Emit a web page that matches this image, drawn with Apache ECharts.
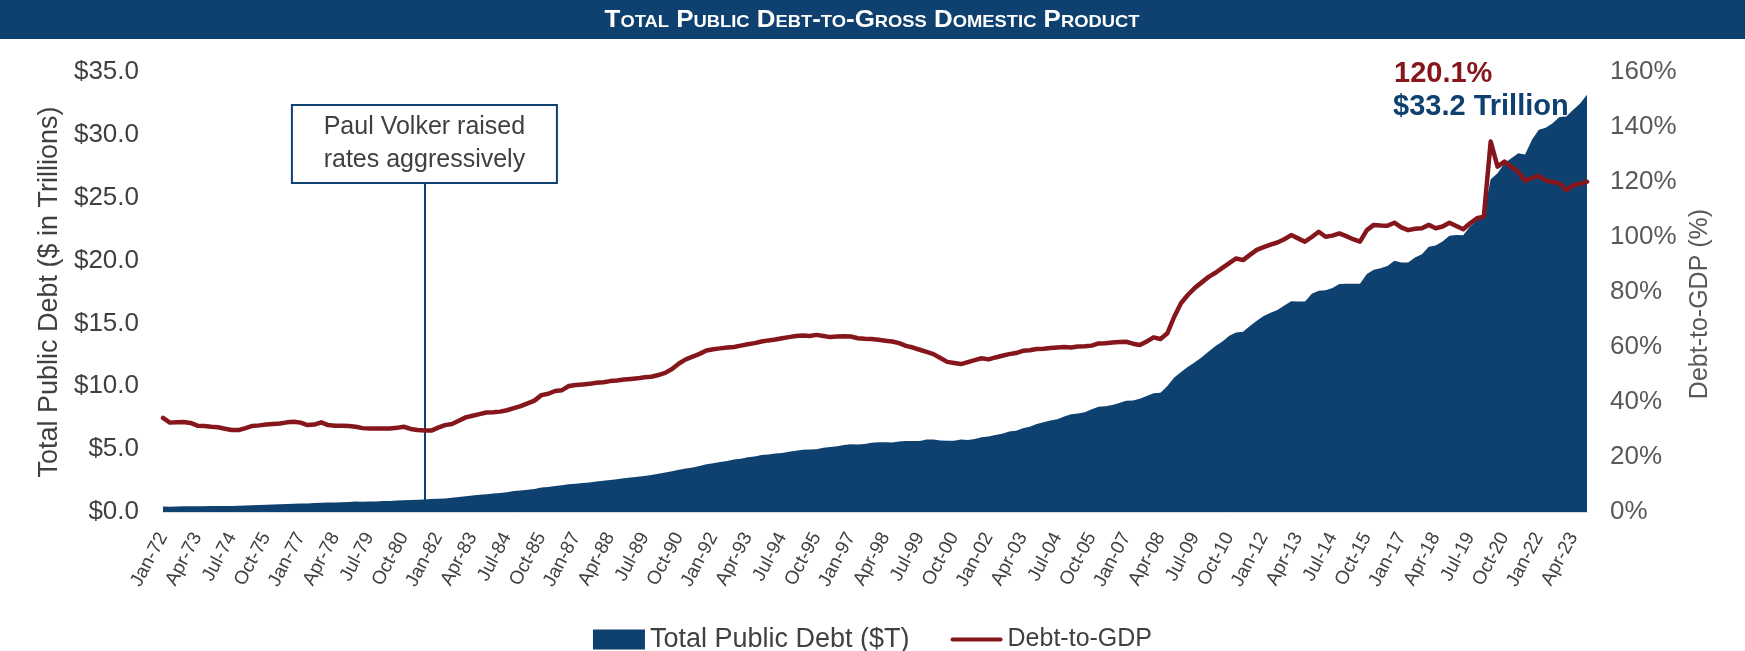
<!DOCTYPE html>
<html>
<head>
<meta charset="utf-8">
<script src="https://cdn.jsdelivr.net/npm/echarts@6/dist/echarts.min.js"></script>
<style>
html,body{margin:0;padding:0;background:#fff;}
#c{width:1745px;height:651px;}
</style>
</head>
<body>
<div id="c"></div>
<script>
// ---- DATA ----
const firstYear = 1972, lastYear = 2023;
const quarterMonths = ['Jan', 'Apr', 'Jul', 'Oct'];

// Total public debt, $ trillions, quarterly Jan-72 .. Oct-23
const totalDebt = [
  0.428, 0.427, 0.437, 0.450,  // 1972
  0.459, 0.458, 0.466, 0.469,  // 1973
  0.475, 0.475, 0.482, 0.492,  // 1974
  0.509, 0.533, 0.554, 0.577,  // 1975
  0.599, 0.620, 0.635, 0.653,  // 1976
  0.680, 0.685, 0.709, 0.729,  // 1977
  0.759, 0.758, 0.780, 0.797,  // 1978
  0.826, 0.812, 0.827, 0.845,  // 1979
  0.873, 0.884, 0.908, 0.930,  // 1980
  0.964, 0.971, 0.998, 1.028,  // 1981
  1.061, 1.080, 1.143, 1.197,  // 1982
  1.250, 1.320, 1.377, 1.410,  // 1983
  1.463, 1.518, 1.573, 1.663,  // 1984
  1.710, 1.775, 1.823, 1.946,  // 1985
  1.986, 2.060, 2.125, 2.214,  // 1986
  2.247, 2.310, 2.350, 2.432,  // 1987
  2.487, 2.548, 2.602, 2.684,  // 1988
  2.740, 2.800, 2.857, 2.953,  // 1989
  3.052, 3.143, 3.233, 3.365,  // 1990
  3.465, 3.538, 3.665, 3.801,  // 1991
  3.881, 3.984, 4.065, 4.177,  // 1992
  4.231, 4.352, 4.411, 4.536,  // 1993
  4.576, 4.645, 4.692, 4.801,  // 1994
  4.864, 4.951, 4.974, 4.989,  // 1995
  5.118, 5.161, 5.225, 5.324,  // 1996
  5.380, 5.377, 5.413, 5.503,  // 1997
  5.542, 5.548, 5.526, 5.614,  // 1998
  5.652, 5.639, 5.656, 5.776,  // 1999
  5.773, 5.686, 5.674, 5.662,  // 2000
  5.773, 5.727, 5.807, 5.943,  // 2001
  6.006, 6.126, 6.228, 6.405,  // 2002
  6.460, 6.670, 6.783, 7.001,  // 2003
  7.131, 7.274, 7.379, 7.596,  // 2004
  7.777, 7.836, 7.933, 8.170,  // 2005
  8.371, 8.420, 8.507, 8.680,  // 2006
  8.849, 8.867, 9.008, 9.229,  // 2007
  9.437, 9.492, 10.025, 10.700, // 2008
  11.127, 11.545, 11.910, 12.311, // 2009
  12.773, 13.202, 13.562, 14.025, // 2010
  14.270, 14.343, 14.790, 15.223, // 2011
  15.582, 15.856, 16.066, 16.433, // 2012
  16.771, 16.738, 16.738, 17.352, // 2013
  17.601, 17.632, 17.824, 18.141, // 2014
  18.152, 18.152, 18.151, 18.922, // 2015
  19.264, 19.381, 19.573, 19.977, // 2016
  19.846, 19.845, 20.245, 20.493, // 2017
  21.090, 21.195, 21.516, 21.974, // 2018
  22.028, 22.023, 22.719, 23.201, // 2019
  23.687, 26.477, 26.945, 27.748, // 2020
  28.133, 28.529, 28.429, 29.617, // 2021
  30.401, 30.569, 30.929, 31.420, // 2022
  31.458, 32.000, 32.500, 33.200  // 2023
];

// Debt-to-GDP, %, quarterly Jan-72 .. Oct-23
const debtToGdp = [
  34.2, 32.5, 32.6, 32.7,   // 1972
  32.4, 31.4, 31.3, 31.0,   // 1973
  30.8, 30.3, 29.8, 29.8,   // 1974
  30.5, 31.3, 31.5, 31.8,   // 1975
  32.0, 32.2, 32.6, 32.8,   // 1976
  32.5, 31.6, 31.8, 32.6,   // 1977
  31.6, 31.4, 31.4, 31.3,   // 1978
  31.0, 30.5, 30.4, 30.4,   // 1979
  30.4, 30.4, 30.6, 31.0,   // 1980
  30.2, 29.8, 29.6, 29.6,   // 1981
  30.7, 31.6, 32.0, 33.2,   // 1982
  34.4, 35.0, 35.6, 36.2,   // 1983
  36.3, 36.5, 37.0, 37.8,   // 1984
  38.5, 39.5, 40.5, 42.5,   // 1985
  43.0, 44.0, 44.3, 45.8,   // 1986
  46.2, 46.4, 46.6, 47.0,   // 1987
  47.2, 47.6, 47.8, 48.2,   // 1988
  48.4, 48.6, 49.0, 49.2,   // 1989
  49.8, 50.6, 52.0, 54.0,   // 1990
  55.5, 56.5, 57.5, 58.7,   // 1991
  59.2, 59.5, 59.8, 60.0,   // 1992
  60.5, 61.0, 61.4, 62.0,   // 1993
  62.4, 62.7, 63.2, 63.6,   // 1994
  64.0, 64.2, 64.0, 64.4,   // 1995
  64.0, 63.6, 63.8, 63.9,   // 1996
  63.8, 63.2, 63.0, 62.9,   // 1997
  62.6, 62.3, 62.0, 61.4,   // 1998
  60.4, 59.8, 59.0, 58.2,   // 1999
  57.4, 56.0, 54.6, 54.2,   // 2000
  53.8, 54.5, 55.2, 55.9,   // 2001
  55.5, 56.2, 56.8, 57.4,   // 2002
  57.8, 58.6, 58.8, 59.3,   // 2003
  59.4, 59.6, 59.8, 60.0,   // 2004
  59.8, 60.2, 60.3, 60.5,   // 2005
  61.3, 61.4, 61.6, 61.8,   // 2006
  61.9, 61.2, 60.7, 62.0,   // 2007
  63.5, 62.9, 65.0, 71.0,   // 2008
  76.0, 79.0, 81.5, 83.5,   // 2009
  85.5, 87.0, 88.8, 90.5,   // 2010
  92.2, 91.6, 93.5, 95.3,   // 2011
  96.3, 97.2, 98.0, 99.2,   // 2012
  100.7, 99.5, 98.3, 100.0, // 2013
  101.9, 100.1, 100.5, 101.3, // 2014
  100.3, 99.2, 98.3, 102.5, // 2015
  104.4, 104.2, 104.1, 105.2, // 2016
  103.5, 102.5, 103.0, 103.2, // 2017
  104.4, 103.2, 103.8, 105.2, // 2018
  104.0, 102.8, 105.0, 106.8, // 2019
  107.4, 134.7, 125.6, 127.4, // 2020
  125.5, 123.7, 120.5, 121.5, // 2021
  122.2, 120.5, 120.0, 119.5, // 2022
  117.0, 118.9, 119.3, 120.1  // 2023
];

const leftTicks = [0, 5, 10, 15, 20, 25, 30, 35];
const rightTicks = [0, 20, 40, 60, 80, 100, 120, 140, 160];
const titleText = 'Total Public Debt-to-Gross Domestic Product';
const seriesNames = ['Total Public Debt ($T)', 'Debt-to-GDP'];
const annotation = { category: 'Jul-81', top: 26.25, text: 'Paul Volker raised\nrates aggressively' };
const endLabels = { pct: '120.1%', debt: '$33.2 Trillion' };

const categories = [];
for (let y = firstYear; y <= lastYear; y++) {
  for (const m of quarterMonths) categories.push(m + '-' + String(y % 100).padStart(2, '0'));
}

const NAVY = '#0e416f';
const RED = '#85161b';
const FONT = 'Liberation Sans, Arial, sans-serif';
const LINE_ICON = 'path://M0,0M52,20M2,8L50,8A2,2,0,0,1,50,12L2,12A2,2,0,0,1,2,8Z';

const chart = echarts.init(document.getElementById('c'), null, { renderer: 'canvas' });
chart.setOption({
  animation: false,
  backgroundColor: '#fff',
  textStyle: { fontFamily: FONT },
  grid: { left: 163, right: 158, top: 72, bottom: 139, containLabel: false },
  graphic: [
    { type: 'rect', left: 0, top: 0, shape: { width: 1745, height: 39 }, style: { fill: NAVY }, z: 0 },
    { type: 'text', x: 872, y: 20, scaleX: 1.08, z: 1,
      style: { text: titleText, fill: '#fff', font: 'small-caps bold 24px ' + FONT,
        textAlign: 'center', textVerticalAlign: 'middle' } },
    { type: 'text', left: 1394, top: 59,
      style: { text: endLabels.pct, fill: RED, font: 'bold 29px ' + FONT } },
    { type: 'text', left: 1393, top: 92,
      style: { text: endLabels.debt, fill: NAVY, font: 'bold 29px ' + FONT } }
  ],
  legend: {
    left: 'center', top: 621,
    itemWidth: 52, itemHeight: 20, itemGap: 41,
    textStyle: { fontSize: 27, color: '#404040', fontFamily: FONT },
    data: [
      { name: seriesNames[0], icon: 'rect' },
      { name: seriesNames[1], icon: LINE_ICON, textStyle: { fontSize: 25, color: '#404040' } }
    ]
  },
  xAxis: {
    type: 'category', data: categories, boundaryGap: false,
    axisLine: { show: true, lineStyle: { color: '#d9d9d9', width: 1 } },
    axisTick: { show: false },
    axisLabel: { interval: 4, rotate: 62, margin: 22, fontSize: 19, color: '#404040', fontFamily: FONT },
    splitLine: { show: false }
  },
  yAxis: [
    {
      type: 'value', min: leftTicks[0], max: leftTicks[leftTicks.length - 1], interval: 5,
      name: 'Total Public Debt ($ in Trillions)', nameLocation: 'middle', nameGap: 98,
      nameTextStyle: { fontSize: 27, color: '#404040', fontFamily: FONT },
      axisLine: { show: false }, axisTick: { show: false }, splitLine: { show: false },
      axisLabel: { margin: 24, fontSize: 26, color: '#404040', fontFamily: FONT,
        formatter: v => '$' + v.toFixed(1) }
    },
    {
      type: 'value', min: rightTicks[0], max: rightTicks[rightTicks.length - 1], interval: 20,
      name: 'Debt-to-GDP (%)', nameLocation: 'middle', nameGap: 96,
      nameTextStyle: { fontSize: 25, color: '#595959', fontFamily: FONT, padding: [0, 24, 0, 0] },
      axisLine: { show: false }, axisTick: { show: false }, splitLine: { show: false },
      axisLabel: { margin: 23, fontSize: 26, color: '#595959', fontFamily: FONT,
        formatter: v => v + '%' }
    }
  ],
  series: [
    {
      name: seriesNames[0], type: 'line', yAxisIndex: 0, data: totalDebt,
      symbol: 'none', lineStyle: { width: 0, color: NAVY }, itemStyle: { color: NAVY },
      areaStyle: { color: NAVY, opacity: 1 }, z: 2,
      markLine: {
        silent: true, symbol: 'none', label: { show: false },
        lineStyle: { color: NAVY, width: 2, type: 'solid' },
        data: [[{ coord: [annotation.category, 0] }, { coord: [annotation.category, annotation.top] }]]
      },
      markPoint: {
        silent: true,
        data: [{ coord: [annotation.category, annotation.top] }],
        symbol: 'circle', symbolSize: 0,
        itemStyle: { color: 'rgba(0,0,0,0)' },
        label: {
          show: true, position: 'top', distance: 0, formatter: annotation.text,
          fontSize: 25, lineHeight: 33, color: '#404040', fontFamily: FONT,
          align: 'center', verticalAlign: 'bottom',
          width: 259, padding: [5, 2, 5, 2],
          backgroundColor: '#fff', borderColor: NAVY, borderWidth: 2
        }
      }
    },
    {
      name: seriesNames[1], type: 'line', yAxisIndex: 1, data: debtToGdp,
      symbol: 'none', lineStyle: { width: 4.5, color: RED, cap: 'round', join: 'round' },
      itemStyle: { color: RED }, z: 5
    }
  ]
});
</script>
</body>
</html>
